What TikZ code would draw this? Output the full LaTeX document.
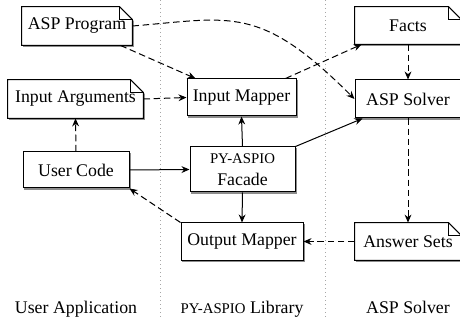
\documentclass[tikz,border=0pt]{standalone}
\usepackage{fontspec}
\setmainfont{Liberation Serif}
\usetikzlibrary{arrows.meta,backgrounds}
\newcommand\sctext[1]{{\fontsize{7.4}{9}\selectfont #1}}
\newcommand\docpath[1]{(#1.south west) -- (#1.north west) -- ([xshift=-6.5pt]#1.north east) -- ([yshift=-6.5pt]#1.north east) -- (#1.south east) -- cycle}
\begin{document}
\begin{tikzpicture}[x=0.5pt,y=-0.5pt,
  every node/.style={font=\rmfamily\fontsize{8.9}{10.5}\selectfont, inner sep=0pt},
  box/.style={},
  rbox/.style={draw, line width=0.5pt},
  label/.style={anchor=base},
  conn/.style={line width=0.5pt, -{Stealth[length=4pt,width=3.4pt]}},
  dconn/.style={conn, dash pattern=on 3.3pt off 1.8pt},
  sep/.style={gray!70, line width=0.5pt, dash pattern=on 0.5pt off 1.5pt},
  shadowc/.style={fill=black!45, transform canvas={shift={(0.7pt,-0.7pt)}}}
]
\useasboundingbox (0,0) rectangle (460,320);

% column separators
\coordinate (s1t) at (160,0); \coordinate (s1b) at (160,320);
\coordinate (s2t) at (325,0); \coordinate (s2b) at (325,320);
\draw[sep] (s1t) -- (s1b);
\draw[sep] (s2t) -- (s2b);

% nodes
\node[box, minimum width=55pt, minimum height=19pt] (aspprog) at (77,26) {ASP Program};
\node[box, minimum width=67.5pt, minimum height=19pt] (inargs) at (75.5,99) {Input Arguments};
\node[rbox, minimum width=53pt, minimum height=18pt] (user) at (76,170) {User Code};
\node[rbox, minimum width=54.5pt, minimum height=18.5pt] (inmap) at (241.5,97.5) {Input Mapper};
\node[rbox, minimum width=52.5pt, minimum height=22.5pt, align=center] (facade) at (242.5,169.5) {\sctext{PY-ASPIO}\\[0.5pt]Facade};
\node[rbox, minimum width=61pt, minimum height=18.5pt] (outmap) at (242,241.5) {Output Mapper};
\node[box, minimum width=53pt, minimum height=18.5pt] (facts) at (408,25.5) {Facts};
\node[rbox, minimum width=53pt, minimum height=19pt] (asps) at (408,99) {ASP Solver};
\node[box, minimum width=53pt, minimum height=18.5pt] (answers) at (408,241.5) {Answer Sets};

% column labels
\node[label] (lab1) at (76,313) {User Application};
\node[label] (lab2) at (242,313) {\sctext{PY-ASPIO} Library};
\node[label] (lab3) at (408,313) {ASP Solver};

% shadows and white fills
\begin{scope}[on background layer]
\foreach \n in {user,inmap,facade,outmap,asps} {
  \fill[shadowc] (\n.south west) rectangle (\n.north east);
  \fill[white] (\n.south west) rectangle (\n.north east);
}
\foreach \n in {aspprog,inargs,facts,answers} {
  \fill[shadowc] \docpath{\n};
  \fill[white] \docpath{\n};
}
\end{scope}

% document outlines
\foreach \n in {aspprog,inargs,facts,answers} {
  \draw[line width=0.5pt, line join=miter] \docpath{\n};
  \draw[line width=0.5pt] ([xshift=-6.5pt]\n.north east) |- ([yshift=-6.5pt]\n.north east);
}

% connectors
\draw[dconn] (aspprog.east) .. controls +(99,-8) and +(-95,-95) .. (asps.west);
\draw[dconn] ([xshift=-6pt]aspprog.south east) -- ([xshift=4.5pt]inmap.north west);
\draw[dconn] (inargs.east) -- (inmap.west);
\draw[dconn] (user.north) -- (inargs.south);
\draw[conn] (user.east) -- (facade.west);
\draw[conn] (facade.north) -- (inmap.south);
\draw[conn] (facade.south) -- (outmap.north);
\draw[conn] (facade.north east) -- ([xshift=4pt]asps.south west);
\draw[dconn] ([xshift=-5.5pt]inmap.north east) -- ([xshift=3.5pt]facts.south west);
\draw[dconn] (facts.south) -- (asps.north);
\draw[dconn] (asps.south) -- (answers.north);
\draw[dconn] (answers.west) -- (outmap.east);
\draw[dconn] (outmap.north west) -- (user.south east);
\end{tikzpicture}
\end{document}
